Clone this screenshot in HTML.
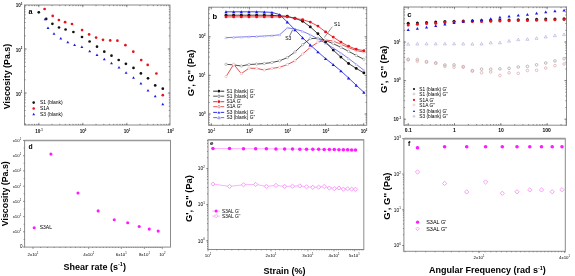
<!DOCTYPE html>
<html><head><meta charset="utf-8"><style>
html,body{margin:0;padding:0;background:#fff;width:575px;height:276px;overflow:hidden}
svg{display:block;filter:blur(0.3px)}
text{font-family:"Liberation Sans", sans-serif}
</style></head><body>
<svg xmlns="http://www.w3.org/2000/svg" width="575" height="276" viewBox="0 0 575 276">
<rect width="575" height="276" fill="#fff"/>
<rect x="24.5" y="5" width="145.5" height="120" fill="none" stroke="#8a8a8a" stroke-width="1"/>
<path d="M25.6 125v-1.2M29.0 125v-1.2M32.0 125v-1.2M34.5 125v-1.2M36.8 125v-1.2M38.8 125v-1.2M52.0 125v-1.2M59.8 125v-1.2M65.3 125v-1.2M69.6 125v-1.2M73.0 125v-1.2M76.0 125v-1.2M78.5 125v-1.2M80.8 125v-1.2M82.8 125v-1.2M96.0 125v-1.2M103.8 125v-1.2M109.3 125v-1.2M113.6 125v-1.2M117.0 125v-1.2M120.0 125v-1.2M122.5 125v-1.2M124.8 125v-1.2M126.8 125v-1.2M140.0 125v-1.2M147.8 125v-1.2M153.3 125v-1.2M157.6 125v-1.2M161.0 125v-1.2M164.0 125v-1.2M166.5 125v-1.2M168.8 125v-1.2" stroke="#666" stroke-width="0.7" fill="none"/>
<path d="M38.8 125v-2.2M82.8 125v-2.2M126.8 125v-2.2" stroke="#666" stroke-width="0.7" fill="none"/>
<path d="M24.5 123.8h1.2M24.5 116.0h1.2M24.5 110.5h1.2M24.5 106.2h1.2M24.5 102.8h1.2M24.5 99.8h1.2M24.5 97.3h1.2M24.5 95.0h1.2M24.5 93.0h1.2M24.5 79.8h1.2M24.5 72.0h1.2M24.5 66.5h1.2M24.5 62.2h1.2M24.5 58.8h1.2M24.5 55.8h1.2M24.5 53.3h1.2M24.5 51.0h1.2M24.5 49.0h1.2M24.5 35.8h1.2M24.5 28.0h1.2M24.5 22.5h1.2M24.5 18.2h1.2M24.5 14.8h1.2M24.5 11.8h1.2M24.5 9.3h1.2M24.5 7.0h1.2" stroke="#666" stroke-width="0.7" fill="none"/>
<path d="M24.5 49.0h2.2M24.5 93.0h2.2" stroke="#666" stroke-width="0.7" fill="none"/>
<path d="M25.6 5v1.2M29.0 5v1.2M32.0 5v1.2M34.5 5v1.2M36.8 5v1.2M38.8 5v1.2M52.0 5v1.2M59.8 5v1.2M65.3 5v1.2M69.6 5v1.2M73.0 5v1.2M76.0 5v1.2M78.5 5v1.2M80.8 5v1.2M82.8 5v1.2M96.0 5v1.2M103.8 5v1.2M109.3 5v1.2M113.6 5v1.2M117.0 5v1.2M120.0 5v1.2M122.5 5v1.2M124.8 5v1.2M126.8 5v1.2M140.0 5v1.2M147.8 5v1.2M153.3 5v1.2M157.6 5v1.2M161.0 5v1.2M164.0 5v1.2M166.5 5v1.2M168.8 5v1.2" stroke="#666" stroke-width="0.7" fill="none"/>
<path d="M38.8 5v2.2M82.8 5v2.2M126.8 5v2.2" stroke="#666" stroke-width="0.7" fill="none"/>
<path d="M170 123.8h-1.2M170 116.0h-1.2M170 110.5h-1.2M170 106.2h-1.2M170 102.8h-1.2M170 99.8h-1.2M170 97.3h-1.2M170 95.0h-1.2M170 93.0h-1.2M170 79.8h-1.2M170 72.0h-1.2M170 66.5h-1.2M170 62.2h-1.2M170 58.8h-1.2M170 55.8h-1.2M170 53.3h-1.2M170 51.0h-1.2M170 49.0h-1.2M170 35.8h-1.2M170 28.0h-1.2M170 22.5h-1.2M170 18.2h-1.2M170 14.8h-1.2M170 11.8h-1.2M170 9.3h-1.2M170 7.0h-1.2" stroke="#666" stroke-width="0.7" fill="none"/>
<path d="M170 49.0h-2.2M170 93.0h-2.2" stroke="#666" stroke-width="0.7" fill="none"/>
<text x="39" y="133.16" font-size="4.6" text-anchor="middle" font-weight="bold" fill="#111">10<tspan font-size="2.76" dy="-2.07">-1</tspan></text>
<text x="83" y="133.16" font-size="4.6" text-anchor="middle" font-weight="bold" fill="#111">10<tspan font-size="2.76" dy="-2.07">0</tspan></text>
<text x="127" y="133.16" font-size="4.6" text-anchor="middle" font-weight="bold" fill="#111">10<tspan font-size="2.76" dy="-2.07">1</tspan></text>
<text x="170.5" y="133.16" font-size="4.6" text-anchor="middle" font-weight="bold" fill="#111">10<tspan font-size="2.76" dy="-2.07">2</tspan></text>
<text x="19" y="7.26" font-size="4.6" text-anchor="middle" font-weight="bold" fill="#111">10<tspan font-size="2.76" dy="-2.07">3</tspan></text>
<text x="19" y="51.56" font-size="4.6" text-anchor="middle" font-weight="bold" fill="#111">10<tspan font-size="2.76" dy="-2.07">2</tspan></text>
<text x="19" y="95.56" font-size="4.6" text-anchor="middle" font-weight="bold" fill="#111">10<tspan font-size="2.76" dy="-2.07">1</tspan></text>
<text x="28.4" y="13.6" font-size="7.2" text-anchor="start" font-weight="bold" fill="#000" >a</text>
<circle cx="38.8" cy="12.3" r="1.35" fill="#111" stroke="none" stroke-width="0.6"/>
<circle cx="46.2" cy="18.9" r="1.35" fill="#111" stroke="none" stroke-width="0.6"/>
<circle cx="52.4" cy="23.8" r="1.35" fill="#111" stroke="none" stroke-width="0.6"/>
<circle cx="59" cy="27.5" r="1.35" fill="#111" stroke="none" stroke-width="0.6"/>
<circle cx="65.6" cy="29.5" r="1.35" fill="#111" stroke="none" stroke-width="0.6"/>
<circle cx="73.4" cy="32" r="1.35" fill="#111" stroke="none" stroke-width="0.6"/>
<circle cx="82" cy="37" r="1.35" fill="#111" stroke="none" stroke-width="0.6"/>
<circle cx="89.6" cy="41.5" r="1.35" fill="#111" stroke="none" stroke-width="0.6"/>
<circle cx="97" cy="46.7" r="1.35" fill="#111" stroke="none" stroke-width="0.6"/>
<circle cx="104.3" cy="51.7" r="1.35" fill="#111" stroke="none" stroke-width="0.6"/>
<circle cx="111.5" cy="55.7" r="1.35" fill="#111" stroke="none" stroke-width="0.6"/>
<circle cx="118.7" cy="60" r="1.35" fill="#111" stroke="none" stroke-width="0.6"/>
<circle cx="125.9" cy="63.8" r="1.35" fill="#111" stroke="none" stroke-width="0.6"/>
<circle cx="133.5" cy="67.9" r="1.35" fill="#111" stroke="none" stroke-width="0.6"/>
<circle cx="140.9" cy="73.4" r="1.35" fill="#111" stroke="none" stroke-width="0.6"/>
<circle cx="148" cy="78.3" r="1.35" fill="#111" stroke="none" stroke-width="0.6"/>
<circle cx="155.2" cy="85.4" r="1.35" fill="#111" stroke="none" stroke-width="0.6"/>
<circle cx="162.8" cy="88.7" r="1.35" fill="#111" stroke="none" stroke-width="0.6"/>
<circle cx="44.6" cy="9" r="1.35" fill="#e8141c" stroke="none" stroke-width="0.6"/>
<circle cx="52.7" cy="15.9" r="1.35" fill="#e8141c" stroke="none" stroke-width="0.6"/>
<circle cx="58.9" cy="20" r="1.35" fill="#e8141c" stroke="none" stroke-width="0.6"/>
<circle cx="65.1" cy="22.2" r="1.35" fill="#e8141c" stroke="none" stroke-width="0.6"/>
<circle cx="72" cy="24" r="1.35" fill="#e8141c" stroke="none" stroke-width="0.6"/>
<circle cx="82.1" cy="30.1" r="1.35" fill="#e8141c" stroke="none" stroke-width="0.6"/>
<circle cx="89.1" cy="34.4" r="1.35" fill="#e8141c" stroke="none" stroke-width="0.6"/>
<circle cx="96.1" cy="37.6" r="1.35" fill="#e8141c" stroke="none" stroke-width="0.6"/>
<circle cx="103" cy="39.8" r="1.35" fill="#e8141c" stroke="none" stroke-width="0.6"/>
<circle cx="110.2" cy="40.4" r="1.35" fill="#e8141c" stroke="none" stroke-width="0.6"/>
<circle cx="117.4" cy="40.7" r="1.35" fill="#e8141c" stroke="none" stroke-width="0.6"/>
<circle cx="125.4" cy="45.2" r="1.35" fill="#e8141c" stroke="none" stroke-width="0.6"/>
<circle cx="133.3" cy="51.7" r="1.35" fill="#e8141c" stroke="none" stroke-width="0.6"/>
<circle cx="141.2" cy="60.1" r="1.35" fill="#e8141c" stroke="none" stroke-width="0.6"/>
<circle cx="147.7" cy="64.9" r="1.35" fill="#e8141c" stroke="none" stroke-width="0.6"/>
<circle cx="156.4" cy="73.5" r="1.35" fill="#e8141c" stroke="none" stroke-width="0.6"/>
<circle cx="162.8" cy="95.2" r="1.35" fill="#e8141c" stroke="none" stroke-width="0.6"/>
<path d="M43.65 20.16L45.10 17.64L46.55 20.16Z" fill="#1a1ae0" stroke="none" stroke-width="0.6"/>
<path d="M46.55 29.06L48.00 26.54L49.45 29.06Z" fill="#1a1ae0" stroke="none" stroke-width="0.6"/>
<path d="M52.55 34.76L54.00 32.24L55.45 34.76Z" fill="#1a1ae0" stroke="none" stroke-width="0.6"/>
<path d="M59.35 39.46L60.80 36.94L62.25 39.46Z" fill="#1a1ae0" stroke="none" stroke-width="0.6"/>
<path d="M66.35 43.36L67.80 40.84L69.25 43.36Z" fill="#1a1ae0" stroke="none" stroke-width="0.6"/>
<path d="M73.15 46.06L74.60 43.54L76.05 46.06Z" fill="#1a1ae0" stroke="none" stroke-width="0.6"/>
<path d="M80.45 48.06L81.90 45.54L83.35 48.06Z" fill="#1a1ae0" stroke="none" stroke-width="0.6"/>
<path d="M88.25 52.16L89.70 49.64L91.15 52.16Z" fill="#1a1ae0" stroke="none" stroke-width="0.6"/>
<path d="M95.55 56.06L97.00 53.54L98.45 56.06Z" fill="#1a1ae0" stroke="none" stroke-width="0.6"/>
<path d="M102.85 60.36L104.30 57.84L105.75 60.36Z" fill="#1a1ae0" stroke="none" stroke-width="0.6"/>
<path d="M110.05 64.16L111.50 61.64L112.95 64.16Z" fill="#1a1ae0" stroke="none" stroke-width="0.6"/>
<path d="M117.55 68.56L119.00 66.04L120.45 68.56Z" fill="#1a1ae0" stroke="none" stroke-width="0.6"/>
<path d="M124.65 73.66L126.10 71.14L127.55 73.66Z" fill="#1a1ae0" stroke="none" stroke-width="0.6"/>
<path d="M132.05 78.86L133.50 76.34L134.95 78.86Z" fill="#1a1ae0" stroke="none" stroke-width="0.6"/>
<path d="M139.45 84.56L140.90 82.04L142.35 84.56Z" fill="#1a1ae0" stroke="none" stroke-width="0.6"/>
<path d="M146.55 91.46L148.00 88.94L149.45 91.46Z" fill="#1a1ae0" stroke="none" stroke-width="0.6"/>
<path d="M153.75 97.16L155.20 94.64L156.65 97.16Z" fill="#1a1ae0" stroke="none" stroke-width="0.6"/>
<path d="M161.35 105.16L162.80 102.64L164.25 105.16Z" fill="#1a1ae0" stroke="none" stroke-width="0.6"/>
<circle cx="33.7" cy="102.6" r="1.3" fill="#111" stroke="none" stroke-width="0.6"/>
<text x="40" y="104.4" font-size="5" text-anchor="start" font-weight="normal" fill="#000" >S1 (blank)</text>
<circle cx="33.7" cy="108.5" r="1.3" fill="#e8141c" stroke="none" stroke-width="0.6"/>
<text x="40" y="110.1" font-size="5" text-anchor="start" font-weight="normal" fill="#000" >S1A</text>
<path d="M32.35 115.17L33.70 112.83L35.05 115.17Z" fill="#1a1ae0" stroke="none" stroke-width="0.6"/>
<text x="40" y="115.8" font-size="5" text-anchor="start" font-weight="normal" fill="#000" >S3 (blank)</text>
<rect x="208.6" y="7.2" width="158.1" height="118.1" fill="none" stroke="#8a8a8a" stroke-width="1"/>
<path d="M209.6 125.3v-1.2M211.3 125.3v-1.2M222.8 125.3v-1.2M229.5 125.3v-1.2M234.2 125.3v-1.2M237.9 125.3v-1.2M240.9 125.3v-1.2M243.5 125.3v-1.2M245.7 125.3v-1.2M247.7 125.3v-1.2M249.4 125.3v-1.2M260.9 125.3v-1.2M267.6 125.3v-1.2M272.3 125.3v-1.2M276.0 125.3v-1.2M279.0 125.3v-1.2M281.6 125.3v-1.2M283.8 125.3v-1.2M285.8 125.3v-1.2M287.5 125.3v-1.2M299.0 125.3v-1.2M305.7 125.3v-1.2M310.4 125.3v-1.2M314.1 125.3v-1.2M317.1 125.3v-1.2M319.7 125.3v-1.2M321.9 125.3v-1.2M323.9 125.3v-1.2M325.6 125.3v-1.2M337.1 125.3v-1.2M343.8 125.3v-1.2M348.5 125.3v-1.2M352.2 125.3v-1.2M355.2 125.3v-1.2M357.8 125.3v-1.2M360.0 125.3v-1.2M362.0 125.3v-1.2M363.7 125.3v-1.2" stroke="#666" stroke-width="0.7" fill="none"/>
<path d="M211.3 125.3v-2.2M249.4 125.3v-2.2M287.5 125.3v-2.2M325.6 125.3v-2.2M363.7 125.3v-2.2" stroke="#666" stroke-width="0.7" fill="none"/>
<path d="M208.6 122.6h1.2M208.6 120.0h1.2M208.6 117.7h1.2M208.6 115.8h1.2M208.6 114.0h1.2M208.6 102.4h1.2M208.6 95.6h1.2M208.6 90.8h1.2M208.6 87.0h1.2M208.6 84.0h1.2M208.6 81.4h1.2M208.6 79.1h1.2M208.6 77.2h1.2M208.6 75.4h1.2M208.6 63.8h1.2M208.6 57.0h1.2M208.6 52.2h1.2M208.6 48.4h1.2M208.6 45.4h1.2M208.6 42.8h1.2M208.6 40.5h1.2M208.6 38.6h1.2M208.6 36.8h1.2M208.6 25.2h1.2M208.6 18.4h1.2M208.6 13.6h1.2M208.6 9.8h1.2" stroke="#666" stroke-width="0.7" fill="none"/>
<path d="M208.6 114.0h2.2M208.6 75.4h2.2M208.6 36.8h2.2" stroke="#666" stroke-width="0.7" fill="none"/>
<path d="M209.6 7.2v1.2M211.3 7.2v1.2M222.8 7.2v1.2M229.5 7.2v1.2M234.2 7.2v1.2M237.9 7.2v1.2M240.9 7.2v1.2M243.5 7.2v1.2M245.7 7.2v1.2M247.7 7.2v1.2M249.4 7.2v1.2M260.9 7.2v1.2M267.6 7.2v1.2M272.3 7.2v1.2M276.0 7.2v1.2M279.0 7.2v1.2M281.6 7.2v1.2M283.8 7.2v1.2M285.8 7.2v1.2M287.5 7.2v1.2M299.0 7.2v1.2M305.7 7.2v1.2M310.4 7.2v1.2M314.1 7.2v1.2M317.1 7.2v1.2M319.7 7.2v1.2M321.9 7.2v1.2M323.9 7.2v1.2M325.6 7.2v1.2M337.1 7.2v1.2M343.8 7.2v1.2M348.5 7.2v1.2M352.2 7.2v1.2M355.2 7.2v1.2M357.8 7.2v1.2M360.0 7.2v1.2M362.0 7.2v1.2M363.7 7.2v1.2" stroke="#666" stroke-width="0.7" fill="none"/>
<path d="M211.3 7.2v2.2M249.4 7.2v2.2M287.5 7.2v2.2M325.6 7.2v2.2M363.7 7.2v2.2" stroke="#666" stroke-width="0.7" fill="none"/>
<path d="M366.7 122.6h-1.2M366.7 120.0h-1.2M366.7 117.7h-1.2M366.7 115.8h-1.2M366.7 114.0h-1.2M366.7 102.4h-1.2M366.7 95.6h-1.2M366.7 90.8h-1.2M366.7 87.0h-1.2M366.7 84.0h-1.2M366.7 81.4h-1.2M366.7 79.1h-1.2M366.7 77.2h-1.2M366.7 75.4h-1.2M366.7 63.8h-1.2M366.7 57.0h-1.2M366.7 52.2h-1.2M366.7 48.4h-1.2M366.7 45.4h-1.2M366.7 42.8h-1.2M366.7 40.5h-1.2M366.7 38.6h-1.2M366.7 36.8h-1.2M366.7 25.2h-1.2M366.7 18.4h-1.2M366.7 13.6h-1.2M366.7 9.8h-1.2" stroke="#666" stroke-width="0.7" fill="none"/>
<path d="M366.7 114.0h-2.2M366.7 75.4h-2.2M366.7 36.8h-2.2" stroke="#666" stroke-width="0.7" fill="none"/>
<text x="211.6" y="132.66" font-size="4.6" text-anchor="middle" font-weight="bold" fill="#111">10<tspan font-size="2.76" dy="-2.07">-1</tspan></text>
<text x="249.7" y="132.66" font-size="4.6" text-anchor="middle" font-weight="bold" fill="#111">10<tspan font-size="2.76" dy="-2.07">0</tspan></text>
<text x="287.8" y="132.66" font-size="4.6" text-anchor="middle" font-weight="bold" fill="#111">10<tspan font-size="2.76" dy="-2.07">1</tspan></text>
<text x="325.9" y="132.66" font-size="4.6" text-anchor="middle" font-weight="bold" fill="#111">10<tspan font-size="2.76" dy="-2.07">2</tspan></text>
<text x="364.0" y="132.66" font-size="4.6" text-anchor="middle" font-weight="bold" fill="#111">10<tspan font-size="2.76" dy="-2.07">3</tspan></text>
<text x="202.1" y="38.46" font-size="4.6" text-anchor="middle" font-weight="bold" fill="#111">10<tspan font-size="2.76" dy="-2.07">2</tspan></text>
<text x="202.1" y="77.06" font-size="4.6" text-anchor="middle" font-weight="bold" fill="#111">10<tspan font-size="2.76" dy="-2.07">1</tspan></text>
<text x="202.1" y="115.66" font-size="4.6" text-anchor="middle" font-weight="bold" fill="#111">10<tspan font-size="2.76" dy="-2.07">0</tspan></text>
<text x="212.4" y="18.9" font-size="7.6" text-anchor="start" font-weight="bold" fill="#000" >b</text>
<polyline points="226.0,64.3 233.7,64.9 241.3,66.0 249.0,64.5 256.6,64.1 264.3,63.5 272.0,62.5 279.6,60.8 287.3,57.6 294.9,52.0 302.6,44.7 310.3,38.6 317.9,38.3 325.6,40.5 333.2,43.7 340.9,47.3 348.6,51.3 356.2,55.4 363.9,59.3" fill="none" stroke="#444" stroke-width="0.95" stroke-opacity="1"/>
<polyline points="226.0,76.6 233.7,64.3 241.3,73.6 249.0,68.2 256.6,68.4 264.3,70.0 272.0,68.4 279.6,67.3 287.3,64.6 294.9,60.8 302.6,54.0 310.3,47.4 317.9,42.2 325.6,40.0 333.2,41.0 340.9,44.2 348.6,47.7 356.2,50.5 363.9,52.1" fill="none" stroke="#e04848" stroke-width="0.95" stroke-opacity="1"/>
<polyline points="226.0,37.6 233.7,37.3 241.3,37.0 249.0,36.7 256.6,36.4 264.3,36.0 272.0,35.6 279.6,34.8 287.3,27.8 294.9,29.0 302.6,31.3 310.3,34.8 317.9,38.8 325.6,43.2 333.2,48.0 340.9,53.0 348.6,58.5 356.2,64.3 363.9,70.2" fill="none" stroke="#5a5aee" stroke-width="0.8" stroke-opacity="1"/>
<polyline points="226.0,15.2 233.7,15.2 241.3,15.2 249.0,15.2 256.6,15.2 264.3,15.2 272.0,15.4 279.6,15.8 287.3,16.3 294.9,18.3 302.6,21.2 310.3,26.9 317.9,33.8 325.6,42.0 333.2,50.1 340.9,57.1 348.6,63.5 356.2,68.4 363.9,72.9" fill="none" stroke="#111" stroke-width="0.8" stroke-opacity="1"/>
<polyline points="226.0,16.9 233.7,16.9 241.3,16.9 249.0,16.9 256.6,16.9 264.3,16.9 272.0,16.9 279.6,16.9 287.3,16.9 294.9,18.4 302.6,19.6 310.3,22.1 317.9,26.1 325.6,31.9 333.2,37.1 340.9,42.1 348.6,46.3 356.2,49.2 363.9,50.7" fill="none" stroke="#e8141c" stroke-width="0.8" stroke-opacity="1"/>
<polyline points="226.0,11.8 233.7,11.8 241.3,11.8 249.0,11.8 256.6,11.8 264.3,12.0 272.0,12.4 279.6,14.6 287.3,22.0 294.9,29.7 302.6,37.8 310.3,45.0 317.9,51.9 325.6,58.6 333.2,64.6 340.9,70.9 348.6,78.0 356.2,85.2 363.9,92.3" fill="none" stroke="#1a1ae0" stroke-width="0.8" stroke-opacity="1"/>
<circle cx="226.0" cy="64.3" r="1.2" fill="#fff" stroke="#888" stroke-width="0.5"/>
<circle cx="233.66" cy="64.9" r="1.2" fill="#fff" stroke="#888" stroke-width="0.5"/>
<circle cx="241.32" cy="66" r="1.2" fill="#fff" stroke="#888" stroke-width="0.5"/>
<circle cx="248.98" cy="64.5" r="1.2" fill="#fff" stroke="#888" stroke-width="0.5"/>
<circle cx="256.64" cy="64.1" r="1.2" fill="#fff" stroke="#888" stroke-width="0.5"/>
<circle cx="264.3" cy="63.5" r="1.2" fill="#fff" stroke="#888" stroke-width="0.5"/>
<circle cx="271.96" cy="62.5" r="1.2" fill="#fff" stroke="#888" stroke-width="0.5"/>
<circle cx="279.62" cy="60.8" r="1.2" fill="#fff" stroke="#888" stroke-width="0.5"/>
<circle cx="287.28" cy="57.6" r="1.2" fill="#fff" stroke="#888" stroke-width="0.5"/>
<circle cx="294.94" cy="52" r="1.2" fill="#fff" stroke="#888" stroke-width="0.5"/>
<circle cx="302.6" cy="44.7" r="1.2" fill="#fff" stroke="#888" stroke-width="0.5"/>
<circle cx="310.26" cy="38.6" r="1.2" fill="#fff" stroke="#888" stroke-width="0.5"/>
<circle cx="317.92" cy="38.3" r="1.2" fill="#fff" stroke="#888" stroke-width="0.5"/>
<circle cx="325.58" cy="40.5" r="1.2" fill="#fff" stroke="#888" stroke-width="0.5"/>
<circle cx="333.24" cy="43.7" r="1.2" fill="#fff" stroke="#888" stroke-width="0.5"/>
<circle cx="340.9" cy="47.3" r="1.2" fill="#fff" stroke="#888" stroke-width="0.5"/>
<circle cx="348.56" cy="51.3" r="1.2" fill="#fff" stroke="#888" stroke-width="0.5"/>
<circle cx="356.22" cy="55.4" r="1.2" fill="#fff" stroke="#888" stroke-width="0.5"/>
<circle cx="363.88" cy="59.3" r="1.2" fill="#fff" stroke="#888" stroke-width="0.5"/>
<circle cx="226.0" cy="76.6" r="1.2" fill="#fff" stroke="#f0a0a0" stroke-width="0.5"/>
<circle cx="233.66" cy="64.3" r="1.2" fill="#fff" stroke="#f0a0a0" stroke-width="0.5"/>
<circle cx="241.32" cy="73.6" r="1.2" fill="#fff" stroke="#f0a0a0" stroke-width="0.5"/>
<circle cx="248.98" cy="68.2" r="1.2" fill="#fff" stroke="#f0a0a0" stroke-width="0.5"/>
<circle cx="256.64" cy="68.4" r="1.2" fill="#fff" stroke="#f0a0a0" stroke-width="0.5"/>
<circle cx="264.3" cy="70" r="1.2" fill="#fff" stroke="#f0a0a0" stroke-width="0.5"/>
<circle cx="271.96" cy="68.4" r="1.2" fill="#fff" stroke="#f0a0a0" stroke-width="0.5"/>
<circle cx="279.62" cy="67.3" r="1.2" fill="#fff" stroke="#f0a0a0" stroke-width="0.5"/>
<circle cx="287.28" cy="64.6" r="1.2" fill="#fff" stroke="#f0a0a0" stroke-width="0.5"/>
<circle cx="294.94" cy="60.8" r="1.2" fill="#fff" stroke="#f0a0a0" stroke-width="0.5"/>
<circle cx="302.6" cy="54" r="1.2" fill="#fff" stroke="#f0a0a0" stroke-width="0.5"/>
<circle cx="310.26" cy="47.4" r="1.2" fill="#fff" stroke="#f0a0a0" stroke-width="0.5"/>
<circle cx="317.92" cy="42.2" r="1.2" fill="#fff" stroke="#f0a0a0" stroke-width="0.5"/>
<circle cx="325.58" cy="40" r="1.2" fill="#fff" stroke="#f0a0a0" stroke-width="0.5"/>
<circle cx="333.24" cy="41" r="1.2" fill="#fff" stroke="#f0a0a0" stroke-width="0.5"/>
<circle cx="340.9" cy="44.2" r="1.2" fill="#fff" stroke="#f0a0a0" stroke-width="0.5"/>
<circle cx="348.56" cy="47.7" r="1.2" fill="#fff" stroke="#f0a0a0" stroke-width="0.5"/>
<circle cx="356.22" cy="50.5" r="1.2" fill="#fff" stroke="#f0a0a0" stroke-width="0.5"/>
<circle cx="363.88" cy="52.1" r="1.2" fill="#fff" stroke="#f0a0a0" stroke-width="0.5"/>
<path d="M224.80 38.64L226.00 36.56L227.20 38.64Z" fill="#fff" stroke="#a0a0f0" stroke-width="0.5"/>
<path d="M232.46 38.34L233.66 36.26L234.86 38.34Z" fill="#fff" stroke="#a0a0f0" stroke-width="0.5"/>
<path d="M240.12 38.04L241.32 35.96L242.52 38.04Z" fill="#fff" stroke="#a0a0f0" stroke-width="0.5"/>
<path d="M247.78 37.74L248.98 35.66L250.18 37.74Z" fill="#fff" stroke="#a0a0f0" stroke-width="0.5"/>
<path d="M255.44 37.44L256.64 35.36L257.84 37.44Z" fill="#fff" stroke="#a0a0f0" stroke-width="0.5"/>
<path d="M263.10 37.04L264.30 34.96L265.50 37.04Z" fill="#fff" stroke="#a0a0f0" stroke-width="0.5"/>
<path d="M270.76 36.64L271.96 34.56L273.16 36.64Z" fill="#fff" stroke="#a0a0f0" stroke-width="0.5"/>
<path d="M278.42 35.84L279.62 33.76L280.82 35.84Z" fill="#fff" stroke="#a0a0f0" stroke-width="0.5"/>
<path d="M286.08 28.84L287.28 26.76L288.48 28.84Z" fill="#fff" stroke="#a0a0f0" stroke-width="0.5"/>
<path d="M293.74 30.04L294.94 27.96L296.14 30.04Z" fill="#fff" stroke="#a0a0f0" stroke-width="0.5"/>
<path d="M301.40 32.34L302.60 30.26L303.80 32.34Z" fill="#fff" stroke="#a0a0f0" stroke-width="0.5"/>
<path d="M309.06 35.84L310.26 33.76L311.46 35.84Z" fill="#fff" stroke="#a0a0f0" stroke-width="0.5"/>
<path d="M316.72 39.84L317.92 37.76L319.12 39.84Z" fill="#fff" stroke="#a0a0f0" stroke-width="0.5"/>
<path d="M324.38 44.24L325.58 42.16L326.78 44.24Z" fill="#fff" stroke="#a0a0f0" stroke-width="0.5"/>
<path d="M332.04 49.04L333.24 46.96L334.44 49.04Z" fill="#fff" stroke="#a0a0f0" stroke-width="0.5"/>
<path d="M339.70 54.04L340.90 51.96L342.10 54.04Z" fill="#fff" stroke="#a0a0f0" stroke-width="0.5"/>
<path d="M347.36 59.54L348.56 57.46L349.76 59.54Z" fill="#fff" stroke="#a0a0f0" stroke-width="0.5"/>
<path d="M355.02 65.34L356.22 63.26L357.42 65.34Z" fill="#fff" stroke="#a0a0f0" stroke-width="0.5"/>
<path d="M362.68 71.24L363.88 69.16L365.08 71.24Z" fill="#fff" stroke="#a0a0f0" stroke-width="0.5"/>
<circle cx="226.0" cy="15.2" r="1.45" fill="#111" stroke="none" stroke-width="0.6"/>
<circle cx="233.66" cy="15.2" r="1.45" fill="#111" stroke="none" stroke-width="0.6"/>
<circle cx="241.32" cy="15.2" r="1.45" fill="#111" stroke="none" stroke-width="0.6"/>
<circle cx="248.98" cy="15.2" r="1.45" fill="#111" stroke="none" stroke-width="0.6"/>
<circle cx="256.64" cy="15.2" r="1.45" fill="#111" stroke="none" stroke-width="0.6"/>
<circle cx="264.3" cy="15.2" r="1.45" fill="#111" stroke="none" stroke-width="0.6"/>
<circle cx="271.96" cy="15.4" r="1.45" fill="#111" stroke="none" stroke-width="0.6"/>
<circle cx="279.62" cy="15.8" r="1.45" fill="#111" stroke="none" stroke-width="0.6"/>
<circle cx="287.28" cy="16.3" r="1.45" fill="#111" stroke="none" stroke-width="0.6"/>
<circle cx="294.94" cy="18.3" r="1.45" fill="#111" stroke="none" stroke-width="0.6"/>
<circle cx="302.6" cy="21.2" r="1.45" fill="#111" stroke="none" stroke-width="0.6"/>
<circle cx="310.26" cy="26.9" r="1.45" fill="#111" stroke="none" stroke-width="0.6"/>
<circle cx="317.92" cy="33.8" r="1.45" fill="#111" stroke="none" stroke-width="0.6"/>
<circle cx="325.58" cy="42" r="1.45" fill="#111" stroke="none" stroke-width="0.6"/>
<circle cx="333.24" cy="50.1" r="1.45" fill="#111" stroke="none" stroke-width="0.6"/>
<circle cx="340.9" cy="57.1" r="1.45" fill="#111" stroke="none" stroke-width="0.6"/>
<circle cx="348.56" cy="63.5" r="1.45" fill="#111" stroke="none" stroke-width="0.6"/>
<circle cx="356.22" cy="68.4" r="1.45" fill="#111" stroke="none" stroke-width="0.6"/>
<circle cx="363.88" cy="72.9" r="1.45" fill="#111" stroke="none" stroke-width="0.6"/>
<circle cx="226.0" cy="16.9" r="1.45" fill="#e8141c" stroke="none" stroke-width="0.6"/>
<circle cx="233.66" cy="16.9" r="1.45" fill="#e8141c" stroke="none" stroke-width="0.6"/>
<circle cx="241.32" cy="16.9" r="1.45" fill="#e8141c" stroke="none" stroke-width="0.6"/>
<circle cx="248.98" cy="16.9" r="1.45" fill="#e8141c" stroke="none" stroke-width="0.6"/>
<circle cx="256.64" cy="16.9" r="1.45" fill="#e8141c" stroke="none" stroke-width="0.6"/>
<circle cx="264.3" cy="16.9" r="1.45" fill="#e8141c" stroke="none" stroke-width="0.6"/>
<circle cx="271.96" cy="16.9" r="1.45" fill="#e8141c" stroke="none" stroke-width="0.6"/>
<circle cx="279.62" cy="16.9" r="1.45" fill="#e8141c" stroke="none" stroke-width="0.6"/>
<circle cx="287.28" cy="16.9" r="1.45" fill="#e8141c" stroke="none" stroke-width="0.6"/>
<circle cx="294.94" cy="18.4" r="1.45" fill="#e8141c" stroke="none" stroke-width="0.6"/>
<circle cx="302.6" cy="19.6" r="1.45" fill="#e8141c" stroke="none" stroke-width="0.6"/>
<circle cx="310.26" cy="22.1" r="1.45" fill="#e8141c" stroke="none" stroke-width="0.6"/>
<circle cx="317.92" cy="26.1" r="1.45" fill="#e8141c" stroke="none" stroke-width="0.6"/>
<circle cx="325.58" cy="31.9" r="1.45" fill="#e8141c" stroke="none" stroke-width="0.6"/>
<circle cx="333.24" cy="37.1" r="1.45" fill="#e8141c" stroke="none" stroke-width="0.6"/>
<circle cx="340.9" cy="42.1" r="1.45" fill="#e8141c" stroke="none" stroke-width="0.6"/>
<circle cx="348.56" cy="46.3" r="1.45" fill="#e8141c" stroke="none" stroke-width="0.6"/>
<circle cx="356.22" cy="49.2" r="1.45" fill="#e8141c" stroke="none" stroke-width="0.6"/>
<circle cx="363.88" cy="50.7" r="1.45" fill="#e8141c" stroke="none" stroke-width="0.6"/>
<path d="M224.35 13.24L226.00 10.36L227.65 13.24Z" fill="#1a1ae0" stroke="none" stroke-width="0.6"/>
<path d="M232.01 13.24L233.66 10.36L235.31 13.24Z" fill="#1a1ae0" stroke="none" stroke-width="0.6"/>
<path d="M239.67 13.24L241.32 10.36L242.97 13.24Z" fill="#1a1ae0" stroke="none" stroke-width="0.6"/>
<path d="M247.33 13.24L248.98 10.36L250.63 13.24Z" fill="#1a1ae0" stroke="none" stroke-width="0.6"/>
<path d="M254.99 13.24L256.64 10.36L258.29 13.24Z" fill="#1a1ae0" stroke="none" stroke-width="0.6"/>
<path d="M262.65 13.44L264.30 10.56L265.95 13.44Z" fill="#1a1ae0" stroke="none" stroke-width="0.6"/>
<path d="M270.31 13.84L271.96 10.96L273.61 13.84Z" fill="#1a1ae0" stroke="none" stroke-width="0.6"/>
<path d="M277.97 16.04L279.62 13.16L281.27 16.04Z" fill="#1a1ae0" stroke="none" stroke-width="0.6"/>
<path d="M285.63 23.44L287.28 20.56L288.93 23.44Z" fill="#1a1ae0" stroke="none" stroke-width="0.6"/>
<path d="M293.29 31.14L294.94 28.26L296.59 31.14Z" fill="#1a1ae0" stroke="none" stroke-width="0.6"/>
<path d="M300.95 39.24L302.60 36.36L304.25 39.24Z" fill="#1a1ae0" stroke="none" stroke-width="0.6"/>
<path d="M308.61 46.44L310.26 43.56L311.91 46.44Z" fill="#1a1ae0" stroke="none" stroke-width="0.6"/>
<path d="M316.27 53.34L317.92 50.46L319.57 53.34Z" fill="#1a1ae0" stroke="none" stroke-width="0.6"/>
<path d="M323.93 60.04L325.58 57.16L327.23 60.04Z" fill="#1a1ae0" stroke="none" stroke-width="0.6"/>
<path d="M331.59 66.04L333.24 63.16L334.89 66.04Z" fill="#1a1ae0" stroke="none" stroke-width="0.6"/>
<path d="M339.25 72.34L340.90 69.46L342.55 72.34Z" fill="#1a1ae0" stroke="none" stroke-width="0.6"/>
<path d="M346.91 79.44L348.56 76.56L350.21 79.44Z" fill="#1a1ae0" stroke="none" stroke-width="0.6"/>
<path d="M354.57 86.64L356.22 83.76L357.87 86.64Z" fill="#1a1ae0" stroke="none" stroke-width="0.6"/>
<path d="M362.23 93.74L363.88 90.86L365.53 93.74Z" fill="#1a1ae0" stroke="none" stroke-width="0.6"/>
<text x="334.1" y="26.1" font-size="5" text-anchor="start" font-weight="normal" fill="#000" >S1</text>
<line x1="332.3" y1="26.7" x2="324.3" y2="37.6" stroke="#333" stroke-width="0.5"/>
<text x="285.2" y="40" font-size="5" text-anchor="start" font-weight="normal" fill="#000" >S3</text>
<line x1="289.6" y1="36" x2="292.6" y2="29.8" stroke="#222" stroke-width="0.6"/>
<path d="M213.2 91.2H217.2M220.6 91.2H224.2" stroke="#111" stroke-width="0.9"/>
<circle cx="218.9" cy="91.2" r="1.35" fill="#111" stroke="none" stroke-width="0.6"/>
<text x="226.5" y="92.9" font-size="4.8" text-anchor="start" font-weight="normal" fill="#000" >S1 (blank) G'</text>
<path d="M213.2 96.2H217.2M220.6 96.2H224.2" stroke="#444" stroke-width="0.9"/>
<circle cx="218.9" cy="96.2" r="1.2" fill="#fff" stroke="#444" stroke-width="0.6"/>
<text x="226.5" y="97.9" font-size="4.8" text-anchor="start" font-weight="normal" fill="#000" >S1 (blank) G''</text>
<path d="M213.2 101.7H217.2M220.6 101.7H224.2" stroke="#e8141c" stroke-width="0.9"/>
<circle cx="218.9" cy="101.7" r="1.35" fill="#e8141c" stroke="none" stroke-width="0.6"/>
<text x="226.5" y="103.4" font-size="4.8" text-anchor="start" font-weight="normal" fill="#000" >S1A G'</text>
<path d="M213.2 106.7H217.2M220.6 106.7H224.2" stroke="#e04848" stroke-width="0.9"/>
<circle cx="218.9" cy="106.7" r="1.2" fill="#fff" stroke="#e04848" stroke-width="0.6"/>
<text x="226.5" y="108.4" font-size="4.8" text-anchor="start" font-weight="normal" fill="#000" >S1A G''</text>
<path d="M213.2 112.4H217.2M220.6 112.4H224.2" stroke="#1a1ae0" stroke-width="0.9"/>
<path d="M217.50 113.62L218.90 111.18L220.30 113.62Z" fill="#1a1ae0" stroke="none" stroke-width="0.6"/>
<text x="226.5" y="114.10000000000001" font-size="4.8" text-anchor="start" font-weight="normal" fill="#000" >S3 (blank) G'</text>
<path d="M213.2 117.6H217.2M220.6 117.6H224.2" stroke="#5a5aee" stroke-width="0.9"/>
<path d="M217.60 118.73L218.90 116.47L220.20 118.73Z" fill="#fff" stroke="#5a5aee" stroke-width="0.6"/>
<text x="226.5" y="119.3" font-size="4.8" text-anchor="start" font-weight="normal" fill="#000" >S3 (blank) G''</text>
<rect x="403.9" y="7" width="162.60000000000002" height="118.2" fill="none" stroke="#8a8a8a" stroke-width="1"/>
<path d="M406.1 125.2v-1.2M408.2 125.2v-1.2M422.1 125.2v-1.2M430.3 125.2v-1.2M436.1 125.2v-1.2M440.6 125.2v-1.2M444.2 125.2v-1.2M447.3 125.2v-1.2M450.0 125.2v-1.2M452.4 125.2v-1.2M454.5 125.2v-1.2M468.4 125.2v-1.2M476.6 125.2v-1.2M482.4 125.2v-1.2M486.9 125.2v-1.2M490.5 125.2v-1.2M493.6 125.2v-1.2M496.3 125.2v-1.2M498.7 125.2v-1.2M500.8 125.2v-1.2M514.7 125.2v-1.2M522.9 125.2v-1.2M528.7 125.2v-1.2M533.2 125.2v-1.2M536.8 125.2v-1.2M539.9 125.2v-1.2M542.6 125.2v-1.2M545.0 125.2v-1.2M547.1 125.2v-1.2M561.0 125.2v-1.2" stroke="#666" stroke-width="0.7" fill="none"/>
<path d="M408.2 125.2v-2.2M454.5 125.2v-2.2M500.8 125.2v-2.2M547.1 125.2v-2.2" stroke="#666" stroke-width="0.7" fill="none"/>
<path d="M403.9 125.2h1.2M403.9 122.9h1.2M403.9 121.0h1.2M403.9 119.2h1.2M403.9 107.6h1.2M403.9 100.8h1.2M403.9 96.0h1.2M403.9 92.2h1.2M403.9 89.2h1.2M403.9 86.6h1.2M403.9 84.3h1.2M403.9 82.4h1.2M403.9 80.6h1.2M403.9 69.0h1.2M403.9 62.2h1.2M403.9 57.4h1.2M403.9 53.6h1.2M403.9 50.6h1.2M403.9 48.0h1.2M403.9 45.7h1.2M403.9 43.8h1.2M403.9 42.0h1.2M403.9 30.4h1.2M403.9 23.6h1.2M403.9 18.8h1.2M403.9 15.0h1.2M403.9 12.0h1.2M403.9 9.4h1.2M403.9 7.1h1.2" stroke="#666" stroke-width="0.7" fill="none"/>
<path d="M403.9 119.2h2.2M403.9 80.6h2.2M403.9 42.0h2.2" stroke="#666" stroke-width="0.7" fill="none"/>
<path d="M406.1 7v1.2M408.2 7v1.2M422.1 7v1.2M430.3 7v1.2M436.1 7v1.2M440.6 7v1.2M444.2 7v1.2M447.3 7v1.2M450.0 7v1.2M452.4 7v1.2M454.5 7v1.2M468.4 7v1.2M476.6 7v1.2M482.4 7v1.2M486.9 7v1.2M490.5 7v1.2M493.6 7v1.2M496.3 7v1.2M498.7 7v1.2M500.8 7v1.2M514.7 7v1.2M522.9 7v1.2M528.7 7v1.2M533.2 7v1.2M536.8 7v1.2M539.9 7v1.2M542.6 7v1.2M545.0 7v1.2M547.1 7v1.2M561.0 7v1.2" stroke="#666" stroke-width="0.7" fill="none"/>
<path d="M408.2 7v2.2M454.5 7v2.2M500.8 7v2.2M547.1 7v2.2" stroke="#666" stroke-width="0.7" fill="none"/>
<path d="M566.5 125.2h-1.2M566.5 122.9h-1.2M566.5 121.0h-1.2M566.5 119.2h-1.2M566.5 107.6h-1.2M566.5 100.8h-1.2M566.5 96.0h-1.2M566.5 92.2h-1.2M566.5 89.2h-1.2M566.5 86.6h-1.2M566.5 84.3h-1.2M566.5 82.4h-1.2M566.5 80.6h-1.2M566.5 69.0h-1.2M566.5 62.2h-1.2M566.5 57.4h-1.2M566.5 53.6h-1.2M566.5 50.6h-1.2M566.5 48.0h-1.2M566.5 45.7h-1.2M566.5 43.8h-1.2M566.5 42.0h-1.2M566.5 30.4h-1.2M566.5 23.6h-1.2M566.5 18.8h-1.2M566.5 15.0h-1.2M566.5 12.0h-1.2M566.5 9.4h-1.2M566.5 7.1h-1.2" stroke="#666" stroke-width="0.7" fill="none"/>
<path d="M566.5 119.2h-2.2M566.5 80.6h-2.2M566.5 42.0h-2.2" stroke="#666" stroke-width="0.7" fill="none"/>
<text x="408.3" y="132" font-size="5" text-anchor="middle" font-weight="bold" fill="#000" >0.1</text>
<text x="454.5" y="132" font-size="5" text-anchor="middle" font-weight="bold" fill="#000" >1</text>
<text x="501" y="132" font-size="5" text-anchor="middle" font-weight="bold" fill="#000" >10</text>
<text x="546.6" y="132" font-size="5" text-anchor="middle" font-weight="bold" fill="#000" >100</text>
<text x="397.2" y="43.86" font-size="4.6" text-anchor="middle" font-weight="bold" fill="#111">10<tspan font-size="2.76" dy="-2.07">1</tspan></text>
<text x="397.2" y="82.46" font-size="4.6" text-anchor="middle" font-weight="bold" fill="#111">10<tspan font-size="2.76" dy="-2.07">0</tspan></text>
<text x="397.2" y="120.86" font-size="4.6" text-anchor="middle" font-weight="bold" fill="#111">10<tspan font-size="2.76" dy="-2.07">-1</tspan></text>
<text x="407.2" y="16.7" font-size="7.6" text-anchor="start" font-weight="bold" fill="#000" >c</text>
<circle cx="408.2" cy="59.3" r="1.3" fill="none" stroke="#aaa" stroke-width="0.8"/>
<circle cx="417.37" cy="59.6" r="1.3" fill="none" stroke="#aaa" stroke-width="0.8"/>
<circle cx="426.53999999999996" cy="61.6" r="1.3" fill="none" stroke="#aaa" stroke-width="0.8"/>
<circle cx="435.71" cy="62.9" r="1.3" fill="none" stroke="#aaa" stroke-width="0.8"/>
<circle cx="444.88" cy="65.0" r="1.3" fill="none" stroke="#aaa" stroke-width="0.8"/>
<circle cx="454.05" cy="64.9" r="1.3" fill="none" stroke="#aaa" stroke-width="0.8"/>
<circle cx="463.21999999999997" cy="66.6" r="1.3" fill="none" stroke="#aaa" stroke-width="0.8"/>
<circle cx="472.39" cy="70.6" r="1.3" fill="none" stroke="#aaa" stroke-width="0.8"/>
<circle cx="481.56" cy="69.2" r="1.3" fill="none" stroke="#aaa" stroke-width="0.8"/>
<circle cx="490.73" cy="69.2" r="1.3" fill="none" stroke="#aaa" stroke-width="0.8"/>
<circle cx="499.9" cy="68.9" r="1.3" fill="none" stroke="#aaa" stroke-width="0.8"/>
<circle cx="509.07" cy="68.4" r="1.3" fill="none" stroke="#aaa" stroke-width="0.8"/>
<circle cx="518.24" cy="67" r="1.3" fill="none" stroke="#aaa" stroke-width="0.8"/>
<circle cx="527.41" cy="66.4" r="1.3" fill="none" stroke="#aaa" stroke-width="0.8"/>
<circle cx="536.5799999999999" cy="64.8" r="1.3" fill="none" stroke="#aaa" stroke-width="0.8"/>
<circle cx="545.75" cy="63" r="1.3" fill="none" stroke="#aaa" stroke-width="0.8"/>
<circle cx="554.92" cy="60.9" r="1.3" fill="none" stroke="#aaa" stroke-width="0.8"/>
<circle cx="564.0899999999999" cy="58.7" r="1.3" fill="none" stroke="#aaa" stroke-width="0.8"/>
<circle cx="408.2" cy="60" r="1.3" fill="none" stroke="#e4a8a8" stroke-width="0.75"/>
<circle cx="417.37" cy="61.2" r="1.3" fill="none" stroke="#e4a8a8" stroke-width="0.75"/>
<circle cx="426.53999999999996" cy="62.2" r="1.3" fill="none" stroke="#e4a8a8" stroke-width="0.75"/>
<circle cx="435.71" cy="63.3" r="1.3" fill="none" stroke="#e4a8a8" stroke-width="0.75"/>
<circle cx="444.88" cy="66.4" r="1.3" fill="none" stroke="#e4a8a8" stroke-width="0.75"/>
<circle cx="454.05" cy="67.2" r="1.3" fill="none" stroke="#e4a8a8" stroke-width="0.75"/>
<circle cx="463.21999999999997" cy="67.2" r="1.3" fill="none" stroke="#e4a8a8" stroke-width="0.75"/>
<circle cx="472.39" cy="71.2" r="1.3" fill="none" stroke="#e4a8a8" stroke-width="0.75"/>
<circle cx="481.56" cy="72.8" r="1.3" fill="none" stroke="#e4a8a8" stroke-width="0.75"/>
<circle cx="490.73" cy="72" r="1.3" fill="none" stroke="#e4a8a8" stroke-width="0.75"/>
<circle cx="499.9" cy="75.5" r="1.3" fill="none" stroke="#e4a8a8" stroke-width="0.75"/>
<circle cx="509.07" cy="72.8" r="1.3" fill="none" stroke="#e4a8a8" stroke-width="0.75"/>
<circle cx="518.24" cy="73.4" r="1.3" fill="none" stroke="#e4a8a8" stroke-width="0.75"/>
<circle cx="527.41" cy="70.5" r="1.3" fill="none" stroke="#e4a8a8" stroke-width="0.75"/>
<circle cx="536.5799999999999" cy="70.3" r="1.3" fill="none" stroke="#e4a8a8" stroke-width="0.75"/>
<circle cx="545.75" cy="68.1" r="1.3" fill="none" stroke="#e4a8a8" stroke-width="0.75"/>
<circle cx="554.92" cy="65.6" r="1.3" fill="none" stroke="#e4a8a8" stroke-width="0.75"/>
<circle cx="564.0899999999999" cy="64" r="1.3" fill="none" stroke="#e4a8a8" stroke-width="0.75"/>
<path d="M406.70 45.20L408.20 42.59L409.70 45.20Z" fill="none" stroke="#a0a0d8" stroke-width="0.55"/>
<path d="M415.87 45.01L417.37 42.40L418.87 45.01Z" fill="none" stroke="#a0a0d8" stroke-width="0.55"/>
<path d="M425.04 44.91L426.54 42.30L428.04 44.91Z" fill="none" stroke="#a0a0d8" stroke-width="0.55"/>
<path d="M434.21 44.91L435.71 42.30L437.21 44.91Z" fill="none" stroke="#a0a0d8" stroke-width="0.55"/>
<path d="M443.38 44.91L444.88 42.30L446.38 44.91Z" fill="none" stroke="#a0a0d8" stroke-width="0.55"/>
<path d="M452.55 44.91L454.05 42.30L455.55 44.91Z" fill="none" stroke="#a0a0d8" stroke-width="0.55"/>
<path d="M461.72 44.91L463.22 42.30L464.72 44.91Z" fill="none" stroke="#a0a0d8" stroke-width="0.55"/>
<path d="M470.89 45.10L472.39 42.49L473.89 45.10Z" fill="none" stroke="#a0a0d8" stroke-width="0.55"/>
<path d="M480.06 45.01L481.56 42.40L483.06 45.01Z" fill="none" stroke="#a0a0d8" stroke-width="0.55"/>
<path d="M489.23 43.80L490.73 41.20L492.23 43.80Z" fill="none" stroke="#a0a0d8" stroke-width="0.55"/>
<path d="M498.40 43.80L499.90 41.20L501.40 43.80Z" fill="none" stroke="#a0a0d8" stroke-width="0.55"/>
<path d="M507.57 42.10L509.07 39.49L510.57 42.10Z" fill="none" stroke="#a0a0d8" stroke-width="0.55"/>
<path d="M516.74 40.70L518.24 38.09L519.74 40.70Z" fill="none" stroke="#a0a0d8" stroke-width="0.55"/>
<path d="M525.91 40.30L527.41 37.70L528.91 40.30Z" fill="none" stroke="#a0a0d8" stroke-width="0.55"/>
<path d="M535.08 39.30L536.58 36.70L538.08 39.30Z" fill="none" stroke="#a0a0d8" stroke-width="0.55"/>
<path d="M544.25 37.91L545.75 35.30L547.25 37.91Z" fill="none" stroke="#a0a0d8" stroke-width="0.55"/>
<path d="M553.42 36.70L554.92 34.09L556.42 36.70Z" fill="none" stroke="#a0a0d8" stroke-width="0.55"/>
<path d="M562.59 35.60L564.09 32.99L565.59 35.60Z" fill="none" stroke="#a0a0d8" stroke-width="0.55"/>
<circle cx="408.2" cy="23.2" r="1.5" fill="#111" stroke="none" stroke-width="0.6"/>
<circle cx="417.37" cy="22.9" r="1.5" fill="#111" stroke="none" stroke-width="0.6"/>
<circle cx="426.53999999999996" cy="22.5" r="1.5" fill="#111" stroke="none" stroke-width="0.6"/>
<circle cx="435.71" cy="22" r="1.5" fill="#111" stroke="none" stroke-width="0.6"/>
<circle cx="444.88" cy="21.6" r="1.5" fill="#111" stroke="none" stroke-width="0.6"/>
<circle cx="454.05" cy="21.3" r="1.5" fill="#111" stroke="none" stroke-width="0.6"/>
<circle cx="463.21999999999997" cy="21" r="1.5" fill="#111" stroke="none" stroke-width="0.6"/>
<circle cx="472.39" cy="20.8" r="1.5" fill="#111" stroke="none" stroke-width="0.6"/>
<circle cx="481.56" cy="20.6" r="1.5" fill="#111" stroke="none" stroke-width="0.6"/>
<circle cx="490.73" cy="20.3" r="1.5" fill="#111" stroke="none" stroke-width="0.6"/>
<circle cx="499.9" cy="20.1" r="1.5" fill="#111" stroke="none" stroke-width="0.6"/>
<circle cx="509.07" cy="19.9" r="1.5" fill="#111" stroke="none" stroke-width="0.6"/>
<circle cx="518.24" cy="19.7" r="1.5" fill="#111" stroke="none" stroke-width="0.6"/>
<circle cx="527.41" cy="19.5" r="1.5" fill="#111" stroke="none" stroke-width="0.6"/>
<circle cx="536.5799999999999" cy="19.3" r="1.5" fill="#111" stroke="none" stroke-width="0.6"/>
<circle cx="545.75" cy="19.1" r="1.5" fill="#111" stroke="none" stroke-width="0.6"/>
<circle cx="554.92" cy="18.9" r="1.5" fill="#111" stroke="none" stroke-width="0.6"/>
<circle cx="564.0899999999999" cy="18.7" r="1.5" fill="#111" stroke="none" stroke-width="0.6"/>
<circle cx="408.2" cy="25" r="1.5" fill="#e8141c" stroke="none" stroke-width="0.6"/>
<circle cx="417.37" cy="24.3" r="1.5" fill="#e8141c" stroke="none" stroke-width="0.6"/>
<circle cx="426.53999999999996" cy="23.6" r="1.5" fill="#e8141c" stroke="none" stroke-width="0.6"/>
<circle cx="435.71" cy="23.2" r="1.5" fill="#e8141c" stroke="none" stroke-width="0.6"/>
<circle cx="444.88" cy="22.4" r="1.5" fill="#e8141c" stroke="none" stroke-width="0.6"/>
<circle cx="454.05" cy="22" r="1.5" fill="#e8141c" stroke="none" stroke-width="0.6"/>
<circle cx="463.21999999999997" cy="21.6" r="1.5" fill="#e8141c" stroke="none" stroke-width="0.6"/>
<circle cx="472.39" cy="21.5" r="1.5" fill="#e8141c" stroke="none" stroke-width="0.6"/>
<circle cx="481.56" cy="21.4" r="1.5" fill="#e8141c" stroke="none" stroke-width="0.6"/>
<circle cx="490.73" cy="21.2" r="1.5" fill="#e8141c" stroke="none" stroke-width="0.6"/>
<circle cx="499.9" cy="21" r="1.5" fill="#e8141c" stroke="none" stroke-width="0.6"/>
<circle cx="509.07" cy="20.8" r="1.5" fill="#e8141c" stroke="none" stroke-width="0.6"/>
<circle cx="518.24" cy="20.6" r="1.5" fill="#e8141c" stroke="none" stroke-width="0.6"/>
<circle cx="527.41" cy="20.4" r="1.5" fill="#e8141c" stroke="none" stroke-width="0.6"/>
<circle cx="536.5799999999999" cy="20.2" r="1.5" fill="#e8141c" stroke="none" stroke-width="0.6"/>
<circle cx="545.75" cy="20" r="1.5" fill="#e8141c" stroke="none" stroke-width="0.6"/>
<circle cx="554.92" cy="19.8" r="1.5" fill="#e8141c" stroke="none" stroke-width="0.6"/>
<circle cx="564.0899999999999" cy="19.5" r="1.5" fill="#e8141c" stroke="none" stroke-width="0.6"/>
<path d="M406.60 31.09L408.20 28.31L409.80 31.09Z" fill="#1a1ae0" stroke="none" stroke-width="0.6"/>
<path d="M415.77 29.69L417.37 26.91L418.97 29.69Z" fill="#1a1ae0" stroke="none" stroke-width="0.6"/>
<path d="M424.94 28.49L426.54 25.71L428.14 28.49Z" fill="#1a1ae0" stroke="none" stroke-width="0.6"/>
<path d="M434.11 27.09L435.71 24.31L437.31 27.09Z" fill="#1a1ae0" stroke="none" stroke-width="0.6"/>
<path d="M443.28 25.49L444.88 22.71L446.48 25.49Z" fill="#1a1ae0" stroke="none" stroke-width="0.6"/>
<path d="M452.45 23.99L454.05 21.21L455.65 23.99Z" fill="#1a1ae0" stroke="none" stroke-width="0.6"/>
<path d="M461.62 22.79L463.22 20.01L464.82 22.79Z" fill="#1a1ae0" stroke="none" stroke-width="0.6"/>
<path d="M470.79 21.89L472.39 19.11L473.99 21.89Z" fill="#1a1ae0" stroke="none" stroke-width="0.6"/>
<path d="M479.96 21.09L481.56 18.31L483.16 21.09Z" fill="#1a1ae0" stroke="none" stroke-width="0.6"/>
<path d="M489.13 19.99L490.73 17.21L492.33 19.99Z" fill="#1a1ae0" stroke="none" stroke-width="0.6"/>
<path d="M498.30 18.49L499.90 15.71L501.50 18.49Z" fill="#1a1ae0" stroke="none" stroke-width="0.6"/>
<path d="M507.47 17.59L509.07 14.81L510.67 17.59Z" fill="#1a1ae0" stroke="none" stroke-width="0.6"/>
<path d="M516.64 16.59L518.24 13.81L519.84 16.59Z" fill="#1a1ae0" stroke="none" stroke-width="0.6"/>
<path d="M525.81 15.79L527.41 13.01L529.01 15.79Z" fill="#1a1ae0" stroke="none" stroke-width="0.6"/>
<path d="M534.98 14.49L536.58 11.71L538.18 14.49Z" fill="#1a1ae0" stroke="none" stroke-width="0.6"/>
<path d="M544.15 13.29L545.75 10.51L547.35 13.29Z" fill="#1a1ae0" stroke="none" stroke-width="0.6"/>
<path d="M553.32 12.29L554.92 9.51L556.52 12.29Z" fill="#1a1ae0" stroke="none" stroke-width="0.6"/>
<path d="M562.49 11.59L564.09 8.81L565.69 11.59Z" fill="#1a1ae0" stroke="none" stroke-width="0.6"/>
<circle cx="414" cy="89" r="1.1" fill="#111" stroke="none" stroke-width="0.6"/>
<text x="419.3" y="90.7" font-size="4.8" text-anchor="start" font-weight="normal" fill="#000" >S1 (blank) G'</text>
<circle cx="414" cy="94" r="1.0" fill="none" stroke="#aaa" stroke-width="0.5"/>
<text x="419.3" y="95.7" font-size="4.8" text-anchor="start" font-weight="normal" fill="#000" >S1 (blank) G''</text>
<circle cx="414" cy="99.9" r="1.1" fill="#e8141c" stroke="none" stroke-width="0.6"/>
<text x="419.3" y="101.60000000000001" font-size="4.8" text-anchor="start" font-weight="normal" fill="#000" >S1A G'</text>
<circle cx="414" cy="104.9" r="1.0" fill="none" stroke="#e0a8a8" stroke-width="0.5"/>
<text x="419.3" y="106.60000000000001" font-size="4.8" text-anchor="start" font-weight="normal" fill="#000" >S1A G''</text>
<path d="M412.85 112.10L414.00 110.10L415.15 112.10Z" fill="#1a1ae0" stroke="none" stroke-width="0.6"/>
<text x="419.3" y="112.8" font-size="4.8" text-anchor="start" font-weight="normal" fill="#000" >S3 (blank) G'</text>
<path d="M412.90 116.96L414.00 115.04L415.10 116.96Z" fill="none" stroke="#a0a0d8" stroke-width="0.5"/>
<text x="419.3" y="117.7" font-size="4.8" text-anchor="start" font-weight="normal" fill="#000" >S3 (blank) G''</text>
<rect x="24.6" y="140.5" width="145.9" height="106.6" fill="none" stroke="#8a8a8a" stroke-width="1"/>
<line x1="24.6" y1="140.5" x2="170.5" y2="140.5" stroke="#999" stroke-width="1.6"/>
<path d="M33.0 247.1v1.8M88.7 247.1v1.8M121.3 247.1v1.8M144.4 247.1v1.8M162.3 247.1v1.8" stroke="#666" stroke-width="0.7" fill="none"/>
<path d="M40.7 247.1v0.9M47.6 247.1v0.9M54.1 247.1v0.9M60.0 247.1v0.9M65.6 247.1v0.9M70.8 247.1v0.9M75.6 247.1v0.9M80.2 247.1v0.9M84.6 247.1v0.9M92.6 247.1v0.9M96.3 247.1v0.9M99.9 247.1v0.9M103.3 247.1v0.9M106.6 247.1v0.9M109.8 247.1v0.9M112.8 247.1v0.9M115.7 247.1v0.9M118.5 247.1v0.9M123.9 247.1v0.9M126.5 247.1v0.9M128.9 247.1v0.9M131.3 247.1v0.9M133.7 247.1v0.9M135.9 247.1v0.9M138.1 247.1v0.9M140.3 247.1v0.9M142.3 247.1v0.9M146.4 247.1v0.9M148.3 247.1v0.9M150.2 247.1v0.9M152.0 247.1v0.9M153.8 247.1v0.9M155.6 247.1v0.9M157.3 247.1v0.9M159.0 247.1v0.9M160.7 247.1v0.9" stroke="#666" stroke-width="0.7" fill="none"/>
<path d="M24.6 140.5h-1.6M24.6 155.7h-1.6M24.6 170.9h-1.6M24.6 186.2h-1.6M24.6 201.4h-1.6M24.6 216.6h-1.6M24.6 231.8h-1.6M24.6 247.0h-1.6" stroke="#666" stroke-width="0.7" fill="none"/>
<path d="M24.6 148.1h-1.0M24.6 163.3h-1.0M24.6 178.6h-1.0M24.6 193.8h-1.0M24.6 209.0h-1.0M24.6 224.2h-1.0M24.6 239.4h-1.0" stroke="#666" stroke-width="0.7" fill="none"/>
<text x="16.9" y="142.05" font-size="4.3" text-anchor="middle" font-weight="normal" fill="#000">x10<tspan font-size="2.58" dy="-1.94">1</tspan></text>
<text x="16.9" y="157.27" font-size="4.3" text-anchor="middle" font-weight="normal" fill="#000">x10<tspan font-size="2.58" dy="-1.94">1</tspan></text>
<text x="16.9" y="172.49" font-size="4.3" text-anchor="middle" font-weight="normal" fill="#000">x10<tspan font-size="2.58" dy="-1.94">1</tspan></text>
<text x="16.9" y="187.71" font-size="4.3" text-anchor="middle" font-weight="normal" fill="#000">x10<tspan font-size="2.58" dy="-1.94">1</tspan></text>
<text x="16.9" y="202.93" font-size="4.3" text-anchor="middle" font-weight="normal" fill="#000">x10<tspan font-size="2.58" dy="-1.94">1</tspan></text>
<text x="16.9" y="218.15" font-size="4.3" text-anchor="middle" font-weight="normal" fill="#000">x10<tspan font-size="2.58" dy="-1.94">1</tspan></text>
<text x="16.9" y="233.37" font-size="4.3" text-anchor="middle" font-weight="normal" fill="#000">x10<tspan font-size="2.58" dy="-1.94">1</tspan></text>
<text x="21.3" y="248.2" font-size="4.6" text-anchor="middle" font-weight="normal" fill="#000" >0</text>
<text x="28.5" y="148.7" font-size="6.8" text-anchor="start" font-weight="bold" fill="#000" >d</text>
<text x="33.0" y="255.78" font-size="4.4" text-anchor="middle" font-weight="normal" fill="#000">2x10<tspan font-size="2.64" dy="-1.98">1</tspan></text>
<text x="88.69054919783653" y="255.78" font-size="4.4" text-anchor="middle" font-weight="normal" fill="#000">4x10<tspan font-size="2.64" dy="-1.98">1</tspan></text>
<text x="121.26743212313755" y="255.78" font-size="4.4" text-anchor="middle" font-weight="normal" fill="#000">6x10<tspan font-size="2.64" dy="-1.98">1</tspan></text>
<text x="144.38109839567306" y="255.78" font-size="4.4" text-anchor="middle" font-weight="normal" fill="#000">8x10<tspan font-size="2.64" dy="-1.98">1</tspan></text>
<text x="162.3094508021635" y="255.78" font-size="4.4" text-anchor="middle" font-weight="normal" fill="#000">10<tspan font-size="2.64" dy="-1.98">2</tspan></text>
<circle cx="50.92835240649043" cy="154.1" r="1.55" fill="#ff1aff" stroke="none" stroke-width="0.6"/>
<circle cx="77.96203900696446" cy="193" r="1.55" fill="#ff1aff" stroke="none" stroke-width="0.6"/>
<circle cx="98.15376585060206" cy="210.9" r="1.55" fill="#ff1aff" stroke="none" stroke-width="0.6"/>
<circle cx="114.27654835859859" cy="219.7" r="1.55" fill="#ff1aff" stroke="none" stroke-width="0.6"/>
<circle cx="127.69842178109177" cy="222.7" r="1.55" fill="#ff1aff" stroke="none" stroke-width="0.6"/>
<circle cx="139.19578452962799" cy="226.5" r="1.55" fill="#ff1aff" stroke="none" stroke-width="0.6"/>
<circle cx="149.25195205930763" cy="229.1" r="1.55" fill="#ff1aff" stroke="none" stroke-width="0.6"/>
<circle cx="158.1883177806003" cy="231.1" r="1.55" fill="#ff1aff" stroke="none" stroke-width="0.6"/>
<circle cx="34.2" cy="227.8" r="1.55" fill="#ff1aff" stroke="none" stroke-width="0.6"/>
<text x="39.7" y="228.9" font-size="5" text-anchor="start" font-weight="normal" fill="#000" >S3AL</text>
<rect x="208" y="139.8" width="155.8" height="109.69999999999999" fill="none" stroke="#8a8a8a" stroke-width="1"/>
<line x1="208" y1="139.8" x2="363.8" y2="139.8" stroke="#999" stroke-width="1.6"/>
<path d="M208.0 249.5v1.8M271.0 249.5v1.8M307.9 249.5v1.8M334.0 249.5v1.8M354.3 249.5v1.8" stroke="#666" stroke-width="0.7" fill="none"/>
<path d="M216.7 249.5v0.9M224.6 249.5v0.9M231.8 249.5v0.9M238.6 249.5v0.9M244.9 249.5v0.9M250.7 249.5v0.9M256.2 249.5v0.9M261.4 249.5v0.9M266.3 249.5v0.9M275.4 249.5v0.9M279.7 249.5v0.9M283.7 249.5v0.9M287.6 249.5v0.9M291.3 249.5v0.9M294.9 249.5v0.9M298.3 249.5v0.9M301.6 249.5v0.9M304.8 249.5v0.9M310.8 249.5v0.9M313.7 249.5v0.9M316.5 249.5v0.9M319.2 249.5v0.9M321.9 249.5v0.9M324.4 249.5v0.9M326.9 249.5v0.9M329.3 249.5v0.9M331.7 249.5v0.9M336.3 249.5v0.9M338.4 249.5v0.9M340.6 249.5v0.9M342.7 249.5v0.9M344.7 249.5v0.9M346.7 249.5v0.9M348.7 249.5v0.9M350.6 249.5v0.9M352.5 249.5v0.9M356.1 249.5v0.9M357.9 249.5v0.9M359.6 249.5v0.9M361.3 249.5v0.9M363.0 249.5v0.9" stroke="#666" stroke-width="0.7" fill="none"/>
<path d="M208 248.8h-1.0M208 246.4h-1.0M208 244.3h-1.0M208 242.5h-1.0M208 240.8h-1.0M208 229.9h-1.0M208 223.6h-1.0M208 219.1h-1.0M208 215.6h-1.0M208 212.7h-1.0M208 210.3h-1.0M208 208.2h-1.0M208 206.4h-1.0M208 204.7h-1.0M208 193.8h-1.0M208 187.5h-1.0M208 183.0h-1.0M208 179.5h-1.0M208 176.6h-1.0M208 174.2h-1.0M208 172.1h-1.0M208 170.3h-1.0M208 168.6h-1.0M208 157.7h-1.0M208 151.4h-1.0M208 146.9h-1.0M208 143.4h-1.0M208 140.5h-1.0" stroke="#666" stroke-width="0.7" fill="none"/>
<path d="M208 168.6h-1.8M208 204.7h-1.8M208 240.8h-1.8" stroke="#666" stroke-width="0.7" fill="none"/>
<text x="201.3" y="169.93" font-size="4.8" text-anchor="middle" font-weight="normal" fill="#000">10<tspan font-size="2.88" dy="-2.16">2</tspan></text>
<text x="201.3" y="206.33" font-size="4.8" text-anchor="middle" font-weight="normal" fill="#000">10<tspan font-size="2.88" dy="-2.16">1</tspan></text>
<text x="201.3" y="242.53" font-size="4.8" text-anchor="middle" font-weight="normal" fill="#000">10<tspan font-size="2.88" dy="-2.16">0</tspan></text>
<text x="208.0" y="256.88" font-size="4.4" text-anchor="middle" font-weight="normal" fill="#000">10<tspan font-size="2.64" dy="-1.98">1</tspan></text>
<text x="271.0055780924713" y="257.28" font-size="4.4" text-anchor="middle" font-weight="normal" fill="#000">2x10<tspan font-size="2.64" dy="-1.98">1</tspan></text>
<text x="307.86147861282535" y="257.28" font-size="4.4" text-anchor="middle" font-weight="normal" fill="#000">3x10<tspan font-size="2.64" dy="-1.98">1</tspan></text>
<text x="334.01115618494254" y="257.28" font-size="4.4" text-anchor="middle" font-weight="normal" fill="#000">4x10<tspan font-size="2.64" dy="-1.98">1</tspan></text>
<text x="354.2944219075288" y="257.28" font-size="4.4" text-anchor="middle" font-weight="normal" fill="#000">5x10<tspan font-size="2.64" dy="-1.98">1</tspan></text>
<text x="209.9" y="145.3" font-size="6.2" text-anchor="start" font-weight="bold" fill="#000" >e</text>
<polyline points="212.9,148.5 229.5,148.6 243.5,148.7 255.7,148.7 266.4,148.8 275.9,148.9 284.6,149.0 292.5,149.1 299.8,149.1 306.5,149.2 312.8,149.3 318.7,149.4 324.2,149.4 329.4,149.5 334.3,149.6 338.9,149.7 343.4,149.8 347.6,149.8 351.7,149.9 355.5,150.0" fill="none" stroke="#ffb0ff" stroke-width="1.0" stroke-opacity="1"/>
<polyline points="212.9,184.0 229.5,186.4 243.5,184.8 255.7,184.4 266.4,186.4 275.9,185.4 284.6,186.4 292.5,186.2 299.8,185.9 306.5,186.8 312.8,187.3 318.7,187.1 324.2,186.5 329.4,188.0 334.3,188.6 338.9,188.0 343.4,189.2 347.6,188.8 351.7,189.1 355.5,189.3" fill="none" stroke="#ffb0ff" stroke-width="1.0" stroke-opacity="1"/>
<circle cx="212.93492029533803" cy="148.5" r="1.75" fill="#ff1aff" stroke="none" stroke-width="0.6"/>
<circle cx="229.50755509310594" cy="148.57894736842104" r="1.75" fill="#ff1aff" stroke="none" stroke-width="0.6"/>
<circle cx="243.51951816279325" cy="148.6578947368421" r="1.75" fill="#ff1aff" stroke="none" stroke-width="0.6"/>
<circle cx="255.6572326652231" cy="148.73684210526315" r="1.75" fill="#ff1aff" stroke="none" stroke-width="0.6"/>
<circle cx="266.36345561345996" cy="148.81578947368422" r="1.75" fill="#ff1aff" stroke="none" stroke-width="0.6"/>
<circle cx="275.9404983878093" cy="148.89473684210526" r="1.75" fill="#ff1aff" stroke="none" stroke-width="0.6"/>
<circle cx="284.60398739142585" cy="148.97368421052633" r="1.75" fill="#ff1aff" stroke="none" stroke-width="0.6"/>
<circle cx="292.5131331855772" cy="149.05263157894737" r="1.75" fill="#ff1aff" stroke="none" stroke-width="0.6"/>
<circle cx="299.78884202563023" cy="149.1315789473684" r="1.75" fill="#ff1aff" stroke="none" stroke-width="0.6"/>
<circle cx="306.52509625526454" cy="149.21052631578948" r="1.75" fill="#ff1aff" stroke="none" stroke-width="0.6"/>
<circle cx="312.7963989081634" cy="149.28947368421052" r="1.75" fill="#ff1aff" stroke="none" stroke-width="0.6"/>
<circle cx="318.6628107576944" cy="149.3684210526316" r="1.75" fill="#ff1aff" stroke="none" stroke-width="0.6"/>
<circle cx="324.17345763228207" cy="149.44736842105263" r="1.75" fill="#ff1aff" stroke="none" stroke-width="0.6"/>
<circle cx="329.36903370593126" cy="149.52631578947367" r="1.75" fill="#ff1aff" stroke="none" stroke-width="0.6"/>
<circle cx="334.28362706723647" cy="149.60526315789474" r="1.75" fill="#ff1aff" stroke="none" stroke-width="0.6"/>
<circle cx="338.94607648028057" cy="149.68421052631578" r="1.75" fill="#ff1aff" stroke="none" stroke-width="0.6"/>
<circle cx="343.38099677561866" cy="149.76315789473685" r="1.75" fill="#ff1aff" stroke="none" stroke-width="0.6"/>
<circle cx="347.6095654838971" cy="149.8421052631579" r="1.75" fill="#ff1aff" stroke="none" stroke-width="0.6"/>
<circle cx="351.6501344662915" cy="149.92105263157896" r="1.75" fill="#ff1aff" stroke="none" stroke-width="0.6"/>
<circle cx="355.51871127804844" cy="150.0" r="1.75" fill="#ff1aff" stroke="none" stroke-width="0.6"/>
<path d="M210.83 184.00L212.93 181.90L215.03 184.00L212.93 186.10Z" fill="#fff" stroke="#f490f4" stroke-width="0.85"/>
<path d="M227.41 186.40L229.51 184.30L231.61 186.40L229.51 188.50Z" fill="#fff" stroke="#f490f4" stroke-width="0.85"/>
<path d="M241.42 184.80L243.52 182.70L245.62 184.80L243.52 186.90Z" fill="#fff" stroke="#f490f4" stroke-width="0.85"/>
<path d="M253.56 184.40L255.66 182.30L257.76 184.40L255.66 186.50Z" fill="#fff" stroke="#f490f4" stroke-width="0.85"/>
<path d="M264.26 186.40L266.36 184.30L268.46 186.40L266.36 188.50Z" fill="#fff" stroke="#f490f4" stroke-width="0.85"/>
<path d="M273.84 185.40L275.94 183.30L278.04 185.40L275.94 187.50Z" fill="#fff" stroke="#f490f4" stroke-width="0.85"/>
<path d="M282.50 186.40L284.60 184.30L286.70 186.40L284.60 188.50Z" fill="#fff" stroke="#f490f4" stroke-width="0.85"/>
<path d="M290.41 186.20L292.51 184.10L294.61 186.20L292.51 188.30Z" fill="#fff" stroke="#f490f4" stroke-width="0.85"/>
<path d="M297.69 185.90L299.79 183.80L301.89 185.90L299.79 188.00Z" fill="#fff" stroke="#f490f4" stroke-width="0.85"/>
<path d="M304.43 186.80L306.53 184.70L308.63 186.80L306.53 188.90Z" fill="#fff" stroke="#f490f4" stroke-width="0.85"/>
<path d="M310.70 187.30L312.80 185.20L314.90 187.30L312.80 189.40Z" fill="#fff" stroke="#f490f4" stroke-width="0.85"/>
<path d="M316.56 187.10L318.66 185.00L320.76 187.10L318.66 189.20Z" fill="#fff" stroke="#f490f4" stroke-width="0.85"/>
<path d="M322.07 186.50L324.17 184.40L326.27 186.50L324.17 188.60Z" fill="#fff" stroke="#f490f4" stroke-width="0.85"/>
<path d="M327.27 188.00L329.37 185.90L331.47 188.00L329.37 190.10Z" fill="#fff" stroke="#f490f4" stroke-width="0.85"/>
<path d="M332.18 188.60L334.28 186.50L336.38 188.60L334.28 190.70Z" fill="#fff" stroke="#f490f4" stroke-width="0.85"/>
<path d="M336.85 188.00L338.95 185.90L341.05 188.00L338.95 190.10Z" fill="#fff" stroke="#f490f4" stroke-width="0.85"/>
<path d="M341.28 189.20L343.38 187.10L345.48 189.20L343.38 191.30Z" fill="#fff" stroke="#f490f4" stroke-width="0.85"/>
<path d="M345.51 188.80L347.61 186.70L349.71 188.80L347.61 190.90Z" fill="#fff" stroke="#f490f4" stroke-width="0.85"/>
<path d="M349.55 189.10L351.65 187.00L353.75 189.10L351.65 191.20Z" fill="#fff" stroke="#f490f4" stroke-width="0.85"/>
<path d="M353.42 189.30L355.52 187.20L357.62 189.30L355.52 191.40Z" fill="#fff" stroke="#f490f4" stroke-width="0.85"/>
<line x1="212.1" y1="211.1" x2="220" y2="211.1" stroke="#ffb0ff" stroke-width="0.9"/>
<line x1="212.1" y1="216.1" x2="220" y2="216.1" stroke="#ffb0ff" stroke-width="0.9"/>
<circle cx="216.1" cy="211.1" r="1.5" fill="#ff1aff" stroke="none" stroke-width="0.6"/>
<path d="M214.40 216.10L216.10 214.40L217.80 216.10L216.10 217.80Z" fill="#fff" stroke="#f490f4" stroke-width="0.75"/>
<text x="222" y="212.8" font-size="4.8" text-anchor="start" font-weight="normal" fill="#000" >S3AL G'</text>
<text x="222" y="217.8" font-size="4.8" text-anchor="start" font-weight="normal" fill="#000" >S3AL G''</text>
<rect x="403.9" y="138.6" width="161.39999999999998" height="112.70000000000002" fill="none" stroke="#8a8a8a" stroke-width="1"/>
<line x1="403.9" y1="138.6" x2="565.3" y2="138.6" stroke="#999" stroke-width="1.8"/>
<path d="M405.1 251.3v1.0M415.8 251.3v1.0M425.7 251.3v1.0M434.9 251.3v1.0M443.4 251.3v1.0M451.4 251.3v1.0M458.9 251.3v1.0M466.0 251.3v1.0M472.7 251.3v1.0M479.0 251.3v1.0M485.0 251.3v1.0M490.8 251.3v1.0M496.3 251.3v1.0M501.5 251.3v1.0M506.6 251.3v1.0M511.4 251.3v1.0M516.1 251.3v1.0M520.6 251.3v1.0M524.9 251.3v1.0M529.1 251.3v1.0M533.2 251.3v1.0M537.1 251.3v1.0M540.9 251.3v1.0M544.6 251.3v1.0M548.2 251.3v1.0M551.7 251.3v1.0M555.1 251.3v1.0M558.4 251.3v1.0M561.6 251.3v1.0M564.7 251.3v1.0" stroke="#666" stroke-width="0.7" fill="none"/>
<path d="M479.0 251.3v1.8M564.7 251.3v1.8" stroke="#666" stroke-width="0.7" fill="none"/>
<path d="M403.9 251.0h-1.0M403.9 249.0h-1.0M403.9 247.1h-1.0M403.9 245.5h-1.0M403.9 234.8h-1.0M403.9 228.5h-1.0M403.9 224.0h-1.0M403.9 220.5h-1.0M403.9 217.7h-1.0M403.9 215.3h-1.0M403.9 213.3h-1.0M403.9 211.4h-1.0M403.9 209.8h-1.0M403.9 199.1h-1.0M403.9 192.8h-1.0M403.9 188.3h-1.0M403.9 184.8h-1.0M403.9 182.0h-1.0M403.9 179.6h-1.0M403.9 177.6h-1.0M403.9 175.7h-1.0" stroke="#666" stroke-width="0.7" fill="none"/>
<path d="M403.9 138.6h-1.8M403.9 174.1h-1.8M403.9 209.8h-1.8M403.9 245.5h-1.8" stroke="#666" stroke-width="0.7" fill="none"/>
<text x="397.3" y="140.13" font-size="4.8" text-anchor="middle" font-weight="normal" fill="#000">10<tspan font-size="2.88" dy="-2.16">3</tspan></text>
<text x="397.3" y="175.83" font-size="4.8" text-anchor="middle" font-weight="normal" fill="#000">10<tspan font-size="2.88" dy="-2.16">2</tspan></text>
<text x="397.3" y="211.63" font-size="4.8" text-anchor="middle" font-weight="normal" fill="#000">10<tspan font-size="2.88" dy="-2.16">1</tspan></text>
<text x="397.3" y="247.23" font-size="4.8" text-anchor="middle" font-weight="normal" fill="#000">10<tspan font-size="2.88" dy="-2.16">0</tspan></text>
<text x="479" y="259.38" font-size="4.4" text-anchor="middle" font-weight="normal" fill="#000">2x10<tspan font-size="2.64" dy="-1.98">1</tspan></text>
<text x="564.5" y="259.38" font-size="4.4" text-anchor="middle" font-weight="normal" fill="#000">4x10<tspan font-size="2.64" dy="-1.98">1</tspan></text>
<text x="408.1" y="146" font-size="6.8" text-anchor="start" font-weight="bold" fill="#000" >f</text>
<circle cx="417.5" cy="147.7" r="1.8" fill="#ff1aff" stroke="none" stroke-width="0.6"/>
<circle cx="444.6" cy="146.8" r="1.8" fill="#ff1aff" stroke="none" stroke-width="0.6"/>
<circle cx="466.7" cy="146.8" r="1.8" fill="#ff1aff" stroke="none" stroke-width="0.6"/>
<circle cx="485.6" cy="146.8" r="1.8" fill="#ff1aff" stroke="none" stroke-width="0.6"/>
<circle cx="502.3" cy="146.8" r="1.8" fill="#ff1aff" stroke="none" stroke-width="0.6"/>
<circle cx="517" cy="146.8" r="1.8" fill="#ff1aff" stroke="none" stroke-width="0.6"/>
<circle cx="529.8" cy="146.8" r="1.8" fill="#ff1aff" stroke="none" stroke-width="0.6"/>
<circle cx="541.5" cy="146.8" r="1.8" fill="#ff1aff" stroke="none" stroke-width="0.6"/>
<circle cx="552.2" cy="146.8" r="1.8" fill="#ff1aff" stroke="none" stroke-width="0.6"/>
<circle cx="562" cy="146.8" r="1.8" fill="#ff1aff" stroke="none" stroke-width="0.6"/>
<path d="M415.35 172.00L417.50 169.85L419.65 172.00L417.50 174.15Z" fill="none" stroke="#f490f4" stroke-width="0.85"/>
<path d="M442.45 183.40L444.60 181.25L446.75 183.40L444.60 185.55Z" fill="none" stroke="#f490f4" stroke-width="0.85"/>
<path d="M464.55 191.90L466.70 189.75L468.85 191.90L466.70 194.05Z" fill="none" stroke="#f490f4" stroke-width="0.85"/>
<path d="M483.45 182.00L485.60 179.85L487.75 182.00L485.60 184.15Z" fill="none" stroke="#f490f4" stroke-width="0.85"/>
<path d="M500.15 193.30L502.30 191.15L504.45 193.30L502.30 195.45Z" fill="none" stroke="#f490f4" stroke-width="0.85"/>
<path d="M514.85 191.80L517.00 189.65L519.15 191.80L517.00 193.95Z" fill="none" stroke="#f490f4" stroke-width="0.85"/>
<path d="M527.65 189.90L529.80 187.75L531.95 189.90L529.80 192.05Z" fill="none" stroke="#f490f4" stroke-width="0.85"/>
<path d="M539.35 189.90L541.50 187.75L543.65 189.90L541.50 192.05Z" fill="none" stroke="#f490f4" stroke-width="0.85"/>
<path d="M550.05 191.80L552.20 189.65L554.35 191.80L552.20 193.95Z" fill="none" stroke="#f490f4" stroke-width="0.85"/>
<path d="M559.85 189.70L562.00 187.55L564.15 189.70L562.00 191.85Z" fill="none" stroke="#f490f4" stroke-width="0.85"/>
<circle cx="417.6" cy="222.2" r="1.65" fill="#ff1aff" stroke="none" stroke-width="0.6"/>
<path d="M415.80 228.80L417.60 227.00L419.40 228.80L417.60 230.60Z" fill="none" stroke="#f490f4" stroke-width="0.8"/>
<text x="426.2" y="224.3" font-size="5.5" text-anchor="start" font-weight="normal" fill="#000" >S3AL G'</text>
<text x="426.2" y="230.9" font-size="5.5" text-anchor="start" font-weight="normal" fill="#000" >S3AL G''</text>
<text x="0" y="0" font-size="8.8" font-weight="bold" text-anchor="middle" fill="#000" transform="translate(6.5,76.5) rotate(-90)" dominant-baseline="central" textLength="65.5" lengthAdjust="spacingAndGlyphs">Viscosity (Pa.s)</text>
<text x="0" y="0" font-size="8.3" font-weight="bold" text-anchor="middle" fill="#000" transform="translate(190.6,73) rotate(-90)" dominant-baseline="central" textLength="46.7" lengthAdjust="spacingAndGlyphs">G', G'' (Pa)</text>
<text x="0" y="0" font-size="8.3" font-weight="bold" text-anchor="middle" fill="#000" transform="translate(384.3,69.2) rotate(-90)" dominant-baseline="central" textLength="47.4" lengthAdjust="spacingAndGlyphs">G', G'' (Pa)</text>
<text x="0" y="0" font-size="8.8" font-weight="bold" text-anchor="middle" fill="#000" transform="translate(5.2,193.7) rotate(-90)" dominant-baseline="central" textLength="65" lengthAdjust="spacingAndGlyphs">Viscosity (Pa.s)</text>
<text x="0" y="0" font-size="8.3" font-weight="bold" text-anchor="middle" fill="#000" transform="translate(189,198.5) rotate(-90)" dominant-baseline="central" textLength="46.9" lengthAdjust="spacingAndGlyphs">G', G'' (Pa)</text>
<text x="0" y="0" font-size="8.3" font-weight="bold" text-anchor="middle" fill="#000" transform="translate(386.5,196.2) rotate(-90)" dominant-baseline="central" textLength="47.1" lengthAdjust="spacingAndGlyphs">G', G'' (Pa)</text>
<text x="63.5" y="269.5" font-size="9" font-weight="bold" fill="#000">Shear rate (s<tspan font-size="5.5" dy="-3.5">-1</tspan><tspan dy="3.5">)</tspan></text>
<text x="263.6" y="273.6" font-size="9" font-weight="bold" fill="#000">Strain (%)</text>
<text x="428.9" y="273.2" font-size="9" font-weight="bold" fill="#000">Angular Frequency (rad s<tspan font-size="5.5" dy="-3.5">-1</tspan><tspan dy="3.5">)</tspan></text>
</svg>
</body></html>
